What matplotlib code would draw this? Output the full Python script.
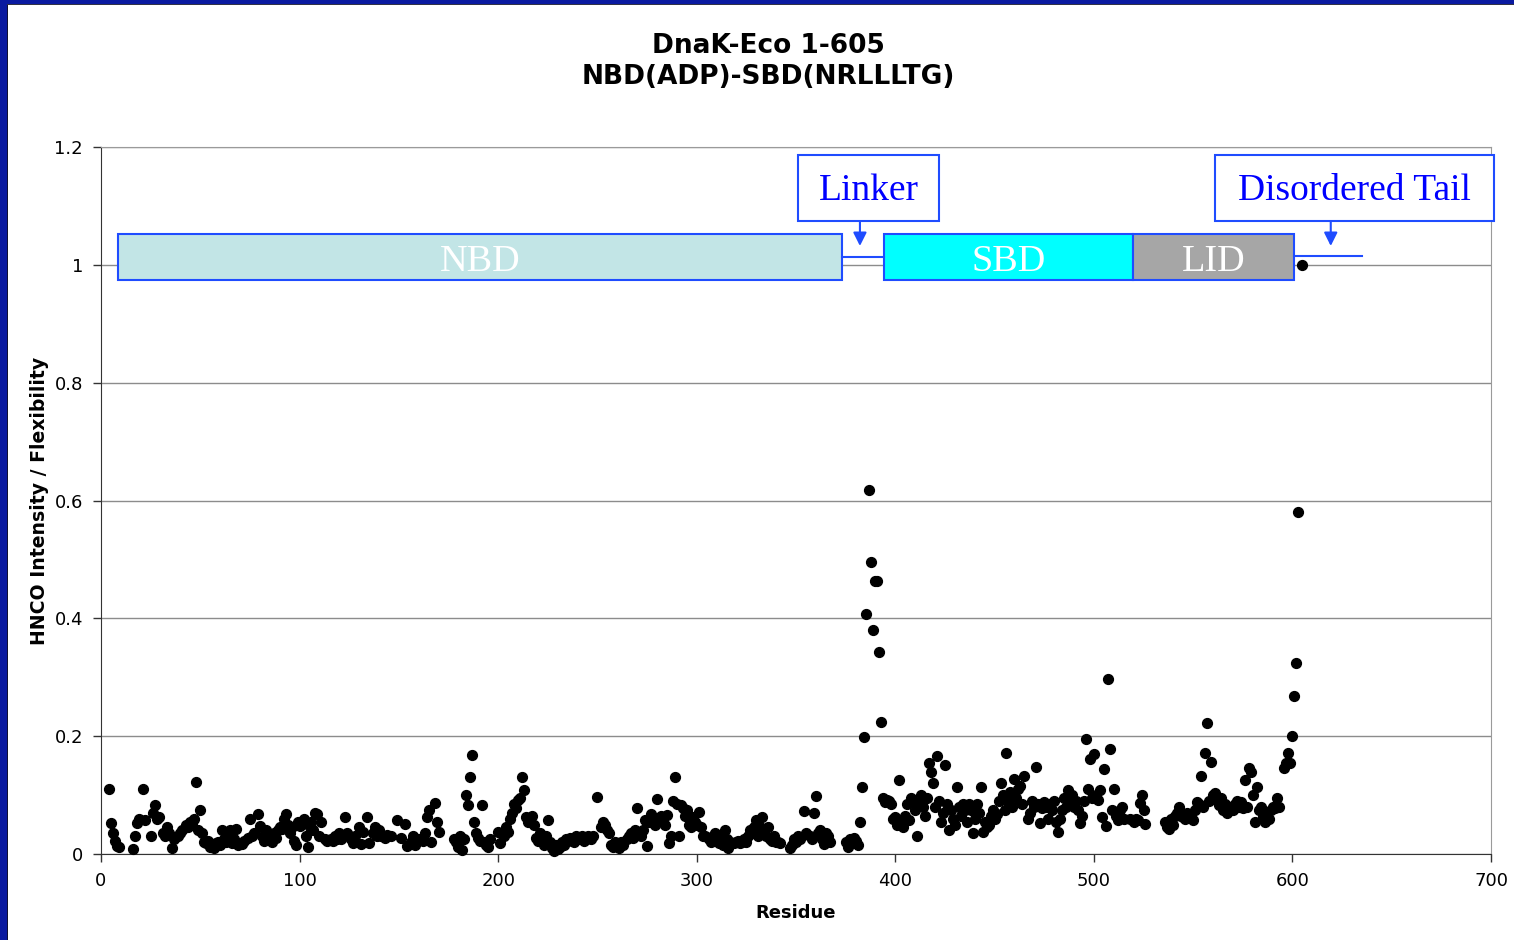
import matplotlib
matplotlib.use("Agg")
import matplotlib.pyplot as plt
from matplotlib.patches import Rectangle

# residue numbers and HNCO intensity
residue = [4, 5, 6, 7, 8, 9, 16, 17, 18, 19, 21, 22, 25, 26, 27, 28, 29, 31, 32, 33,
           34, 36, 37, 39, 40, 41, 43, 44, 45, 46, 47, 48, 49, 50, 51, 52, 53, 54, 55, 56,
           57, 58, 59, 60, 61, 62, 63, 64, 65, 66, 67, 68, 69, 71, 72, 74, 75, 76, 77, 79,
           80, 81, 82, 83, 84, 85, 86, 87, 88, 89, 90, 91, 92, 93, 94, 95, 96, 97, 98, 99,
           100, 101, 102, 103, 104, 105, 106, 107, 108, 109, 110, 111, 113, 114, 116, 117, 118, 119, 120, 121,
           122, 123, 124, 125, 126, 127, 128, 130, 131, 132, 134, 135, 137, 138, 139, 140, 141, 143, 144, 146,
           149, 151, 153, 154, 156, 157, 158, 160, 162, 163, 164, 165, 166, 168, 169, 170,
           178, 179, 180, 181, 182, 183, 184, 185, 186, 187, 188, 189, 190, 191, 192, 193, 194, 195, 196,
           200, 201, 202, 203, 204, 205, 206, 207, 208, 209, 210, 211, 212, 213, 214, 215, 216, 217, 218, 219,
           220, 221, 222, 223, 224, 225, 226, 227, 228, 229, 230, 231, 232, 233, 234, 235, 236, 237, 238, 239,
           240, 241, 242, 243, 244, 245, 246, 247, 248,
           250, 252, 253, 254, 255, 256, 257, 258, 259, 260, 261, 262, 263, 265, 266, 267, 268, 269, 270, 271,
           272, 273, 274, 275, 276, 277, 278, 279, 280, 281, 282, 283, 284, 285, 286, 287, 288, 289, 290, 291,
           292, 293, 294, 295, 296, 297, 298, 299, 300, 301, 302, 303, 304, 306, 307, 308, 309, 310, 311, 312,
           313, 314, 315, 316, 317, 319, 320, 321, 322, 323, 324, 325, 326, 327, 328, 329, 330, 331, 332, 333,
           334, 335, 336, 337, 338, 339, 340, 341, 342, 347, 348, 349, 350, 351, 352, 354, 355, 357, 358, 359,
           360, 361, 362, 363, 364, 365, 366, 367,
           375, 376, 377, 378, 379, 380, 381, 382, 383, 384, 385, 387, 388, 389, 390, 391, 392, 393, 394, 395,
           396, 397, 398, 399, 400, 401, 402, 403, 404, 405, 406, 407, 408, 409, 410, 411, 412, 413, 414, 415,
           416, 417, 418, 419, 420, 421, 422, 423, 424, 425, 426, 427, 428, 429, 430, 431, 432, 433, 434, 435,
           436, 437, 438, 439, 440, 441, 442, 443, 444, 445, 446, 447, 448, 449, 450, 451, 452, 453, 454, 455,
           456, 457, 458, 459, 460, 461, 462, 463, 464, 465, 467, 468, 469, 470, 471, 472, 473, 474, 475, 476,
           477, 478, 479, 480, 481, 482, 483, 484, 485, 486, 487, 488, 489, 490, 491, 492, 493, 494, 495, 496,
           497, 498, 499, 500, 501, 502, 503, 504, 505, 506, 507, 508, 509, 510, 511, 512, 513, 514, 515, 518,
           520, 521, 522, 523, 524, 525, 526,
           536, 537, 538, 539, 540, 541, 542, 543, 544, 545, 546, 547, 548, 549, 550, 551, 552, 553, 554, 555,
           556, 557, 558, 559, 560, 561, 562, 563, 564, 565, 566, 567, 568, 569, 570, 571, 572, 573, 574, 575,
           576, 577, 578, 579, 580, 581, 582, 583, 584, 585, 586, 587, 588, 589, 590, 591, 592, 593,
           596, 597, 598, 599, 600, 601, 602, 603, 605]

intensity = [0.110, 0.053, 0.035, 0.022, 0.013, 0.012, 0.008, 0.030, 0.052, 0.060, 0.110, 0.058, 0.030, 0.070, 0.083, 0.060, 0.062, 0.035, 0.030, 0.045,
             0.035, 0.010, 0.025, 0.030, 0.035, 0.040, 0.050, 0.045, 0.055, 0.052, 0.060, 0.123, 0.040, 0.075, 0.035, 0.020, 0.018, 0.022, 0.012, 0.015,
             0.010, 0.018, 0.020, 0.015, 0.040, 0.025, 0.020, 0.030, 0.040, 0.018, 0.025, 0.042, 0.015, 0.017, 0.022, 0.028, 0.060, 0.030, 0.035, 0.068,
             0.048, 0.030, 0.022, 0.040, 0.025, 0.030, 0.020, 0.035, 0.028, 0.040, 0.045, 0.042, 0.060, 0.068, 0.050, 0.035, 0.045, 0.022, 0.015, 0.055,
             0.048, 0.052, 0.060, 0.030, 0.012, 0.045, 0.055, 0.040, 0.070, 0.068, 0.030, 0.055, 0.025, 0.022, 0.025, 0.022, 0.030, 0.025, 0.035, 0.025,
             0.030, 0.063, 0.035, 0.030, 0.025, 0.018, 0.030, 0.046, 0.017, 0.037, 0.063, 0.018, 0.035, 0.045, 0.030, 0.040, 0.030, 0.028, 0.032, 0.030,
             0.057, 0.027, 0.051, 0.013, 0.020, 0.030, 0.015, 0.025, 0.022, 0.035, 0.063, 0.075, 0.020, 0.086, 0.054, 0.037,
             0.025, 0.020, 0.012, 0.030, 0.007, 0.025, 0.100, 0.083, 0.130, 0.168, 0.055, 0.035, 0.028, 0.022, 0.083, 0.020, 0.015, 0.012, 0.025,
             0.038, 0.018, 0.035, 0.030, 0.045, 0.038, 0.060, 0.070, 0.085, 0.078, 0.092, 0.095, 0.130, 0.108, 0.062, 0.055, 0.060, 0.065, 0.050, 0.028,
             0.022, 0.035, 0.025, 0.015, 0.030, 0.057, 0.020, 0.010, 0.005, 0.015, 0.008, 0.012, 0.020, 0.015, 0.025, 0.022, 0.028, 0.025, 0.020, 0.030,
             0.025, 0.028, 0.030, 0.022, 0.025, 0.030, 0.028, 0.025, 0.030,
             0.097, 0.045, 0.055, 0.050, 0.040, 0.035, 0.015, 0.012, 0.020, 0.018, 0.010, 0.020, 0.015, 0.025, 0.030, 0.035, 0.028, 0.040, 0.078, 0.035,
             0.030, 0.040, 0.057, 0.013, 0.055, 0.068, 0.060, 0.050, 0.093, 0.060, 0.065, 0.055, 0.050, 0.066, 0.018, 0.030, 0.090, 0.131, 0.085, 0.030,
             0.083, 0.078, 0.065, 0.075, 0.050, 0.045, 0.063, 0.055, 0.050, 0.072, 0.045, 0.030, 0.030, 0.025, 0.020, 0.030, 0.035, 0.025, 0.018, 0.030,
             0.015, 0.040, 0.025, 0.010, 0.020, 0.018, 0.020, 0.022, 0.018, 0.020, 0.025, 0.020, 0.030, 0.040, 0.035, 0.045, 0.057, 0.030, 0.045, 0.063,
             0.035, 0.030, 0.045, 0.025, 0.022, 0.030, 0.020, 0.020, 0.018, 0.010, 0.015, 0.025, 0.020, 0.030, 0.025, 0.073, 0.035, 0.030, 0.025, 0.070,
             0.098, 0.035, 0.040, 0.025, 0.017, 0.035, 0.030, 0.020,
             0.020, 0.012, 0.025, 0.018, 0.027, 0.022, 0.015, 0.054, 0.114, 0.199, 0.407, 0.618, 0.496, 0.381, 0.464, 0.464, 0.343, 0.224, 0.095, 0.088,
             0.092, 0.090, 0.085, 0.060, 0.063, 0.050, 0.125, 0.055, 0.045, 0.065, 0.085, 0.058, 0.095, 0.090, 0.075, 0.030, 0.085, 0.100, 0.080, 0.065,
             0.095, 0.155, 0.140, 0.120, 0.080, 0.167, 0.090, 0.055, 0.070, 0.151, 0.085, 0.040, 0.075, 0.060, 0.050, 0.113, 0.080, 0.065, 0.085, 0.075,
             0.055, 0.085, 0.075, 0.036, 0.060, 0.085, 0.070, 0.113, 0.038, 0.055, 0.045, 0.050, 0.065, 0.075, 0.060, 0.068, 0.090, 0.120, 0.100, 0.075,
             0.172, 0.090, 0.105, 0.080, 0.128, 0.095, 0.110, 0.115, 0.085, 0.133, 0.060, 0.069, 0.090, 0.080, 0.148, 0.085, 0.053, 0.078, 0.088, 0.080,
             0.060, 0.085, 0.075, 0.090, 0.055, 0.037, 0.060, 0.075, 0.095, 0.080, 0.108, 0.085, 0.100, 0.080, 0.090, 0.075, 0.053, 0.065, 0.090, 0.196,
             0.111, 0.162, 0.095, 0.170, 0.100, 0.092, 0.108, 0.063, 0.145, 0.047, 0.297, 0.178, 0.075, 0.111, 0.065, 0.058, 0.075, 0.080, 0.060, 0.060,
             0.055, 0.060, 0.058, 0.086, 0.100, 0.075, 0.051,
             0.055, 0.045, 0.042, 0.060, 0.050, 0.065, 0.070, 0.080, 0.065, 0.062, 0.060, 0.070, 0.065, 0.068, 0.058, 0.075, 0.089, 0.085, 0.132, 0.080,
             0.172, 0.222, 0.090, 0.157, 0.100, 0.104, 0.092, 0.083, 0.095, 0.075, 0.085, 0.070, 0.080, 0.078, 0.075, 0.085, 0.090, 0.080, 0.088, 0.078,
             0.126, 0.080, 0.146, 0.139, 0.100, 0.055, 0.114, 0.075, 0.080, 0.065, 0.055, 0.070, 0.060, 0.075, 0.080, 0.078, 0.095, 0.080,
             0.146, 0.155, 0.171, 0.155, 0.200, 0.268, 0.324, 0.580, 1.000]

# domain map drawn along the top (residue ranges)
domains = ["NBD", "SBD", "LID"]
domain_start = [8.6, 394.3, 519.7]
domain_end = [373.1, 519.7, 600.7]
domain_colors = ["#c2e5e6", "#00ffff", "#a6a6a6"]

edge_blue = "#1f4cff"
text_blue = "#0000ff"

fig = plt.figure(figsize=(15.14, 9.4), dpi=100)
ax = fig.add_axes([101 / 1514, 1 - 854 / 940, 1390 / 1514, 707 / 940])

ax.scatter(residue, intensity, s=50, color="black", zorder=4, clip_on=False)

ax.set_xlim(0, 700)
ax.set_ylim(0, 1.2)
ax.set_xticks(range(0, 701, 100))
ax.set_yticks([0, 0.2, 0.4, 0.6, 0.8, 1.0, 1.2])
ax.set_yticklabels(["0", "0.2", "0.4", "0.6", "0.8", "1", "1.2"])
ax.tick_params(axis="both", labelsize=13, direction="out", length=6, width=1,
               color="#333333", pad=7)
ax.yaxis.grid(True, color="#8c8c8c", linewidth=1)
ax.set_axisbelow(True)
for side in ["left", "bottom"]:
    ax.spines[side].set_color("#333333")
for side in ["top", "right"]:
    ax.spines[side].set_color("#9a9a9a")

ax.set_xlabel("Residue", fontsize=13, fontweight="bold", labelpad=10)
ax.set_ylabel("HNCO Intensity / Flexibility", fontsize=13.6, fontweight="bold", labelpad=4)

# domain boxes
for name, x0, x1, c in zip(domains, domain_start, domain_end, domain_colors):
    ax.add_patch(Rectangle((x0, 0.974), x1 - x0, 0.078, facecolor=c,
                           edgecolor=edge_blue, linewidth=1.5, zorder=5))
    ax.text((x0 + x1) / 2, 1.006, name, color="white", fontsize=27.5,
            family="Liberation Serif", ha="center", va="center", zorder=6)

# linker and tail lines
ax.plot([373.1, 394.3], [1.014, 1.014], color=edge_blue, lw=1.5, zorder=5)
ax.plot([600.7, 635], [1.015, 1.015], color=edge_blue, lw=1.5, zorder=5)

# callout boxes with arrows
callouts = [("Linker", 351, 422, 382.2), ("Disordered Tail", 561, 701.5, 619.3)]
for label, x0, x1, xa in callouts:
    ax.add_patch(Rectangle((x0, 1.074), x1 - x0, 0.112, facecolor="white",
                           edgecolor=edge_blue, linewidth=1.5, zorder=5, clip_on=False))
    ax.text((x0 + x1) / 2, 1.126, label, color=text_blue, fontsize=27,
            family="Liberation Serif", ha="center", va="center", zorder=6)
    ax.annotate("", xy=(xa, 1.032), xytext=(xa, 1.074),
                arrowprops=dict(arrowstyle="-|>", color=edge_blue, lw=1.5,
                                mutation_scale=20, shrinkA=0, shrinkB=0), zorder=6)

fig.text(768 / 1514, 1 - 46 / 940, "DnaK-Eco 1-605", fontsize=19, fontweight="bold",
         ha="center", va="center")
fig.text(768 / 1514, 1 - 77 / 940, "NBD(ADP)-SBD(NRLLLTG)", fontsize=19, fontweight="bold",
         ha="center", va="center")

# blue frame on the left and top
fig.add_artist(Rectangle((0, 0), 7 / 1514, 1, transform=fig.transFigure,
                         facecolor="#0a1aa0", edgecolor="none"))
fig.add_artist(Rectangle((0, 1 - 4 / 940), 1, 4 / 940, transform=fig.transFigure,
                         facecolor="#0a1aa0", edgecolor="none"))
fig.add_artist(Rectangle((7 / 1514, 0), 1.2 / 1514, 1 - 4 / 940, transform=fig.transFigure,
                         facecolor="#111133", edgecolor="none"))
fig.add_artist(Rectangle((7 / 1514, 1 - 5.2 / 940), 1, 1.2 / 940, transform=fig.transFigure,
                         facecolor="#333344", edgecolor="none"))

fig.savefig("out.png", dpi=100)
